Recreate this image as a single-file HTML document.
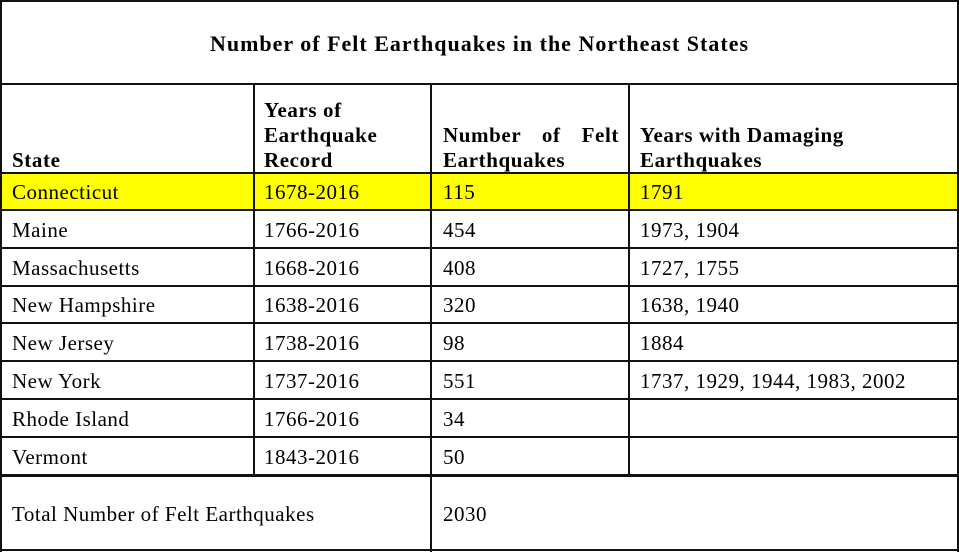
<!DOCTYPE html>
<html><head><meta charset="utf-8"><style>
html,body{margin:0;padding:0;background:#fff;}
#wrap{position:relative;width:959px;height:552px;overflow:hidden;font-family:"Liberation Serif",serif;color:#000;}
.h{position:absolute;height:2px;background:#111;}
.v{position:absolute;width:2px;background:#111;}
.t{position:absolute;font-size:21px;line-height:22px;white-space:nowrap;letter-spacing:0.5px;}
.b{font-weight:bold;letter-spacing:0.6px;}
</style></head><body>
<div id="wrap">
<div style="position:absolute;left:0;top:173px;width:959px;height:37px;background:#ffff00"></div>
<div class="h" style="left:0;top:0;width:959px"></div>
<div class="h" style="left:0;top:83px;width:959px"></div>
<div class="h" style="left:0;top:172px;width:959px"></div>
<div class="h" style="left:0;top:209px;width:959px"></div>
<div class="h" style="left:0;top:247px;width:959px"></div>
<div class="h" style="left:0;top:285px;width:959px"></div>
<div class="h" style="left:0;top:322px;width:959px"></div>
<div class="h" style="left:0;top:360px;width:959px"></div>
<div class="h" style="left:0;top:398px;width:959px"></div>
<div class="h" style="left:0;top:436px;width:959px"></div>
<div class="h" style="left:0;top:474px;width:959px;height:3px"></div>
<div class="h" style="left:0;top:549px;width:959px"></div>
<div class="v" style="left:0;top:0;height:552px"></div>
<div class="v" style="left:957px;top:0;height:552px"></div>
<div class="v" style="left:253px;top:83px;height:393px"></div>
<div class="v" style="left:430px;top:83px;height:469px"></div>
<div class="v" style="left:628px;top:83px;height:393px"></div>

<div class="t b" style="left:0;width:959px;text-align:center;top:33px;font-size:22px;letter-spacing:1px">Number of Felt Earthquakes in the Northeast States</div>
<div class="t b" style="left:12px;top:149px">State</div>
<div class="t b" style="left:264px;top:98px;line-height:25px">Years of<br>Earthquake<br>Record</div>
<div class="t b" style="left:443px;top:123px;line-height:25px;width:176px;white-space:normal;text-align:justify;text-align-last:left">Number of Felt Earthquakes</div>
<div class="t b" style="left:640px;top:123px;line-height:25px">Years with Damaging<br>Earthquakes</div>

<div class="t" style="left:12px;top:503px">Total Number of Felt Earthquakes</div>
<div class="t" style="left:443px;top:503px">2030</div>
</div>
<script>
const states=["Connecticut","Maine","Massachusetts","New Hampshire","New Jersey","New York","Rhode Island","Vermont"];
const records=["1678-2016","1766-2016","1668-2016","1638-2016","1738-2016","1737-2016","1766-2016","1843-2016"];
const felt=["115","454","408","320","98","551","34","50"];
const damaging=["1791","1973, 1904","1727, 1755","1638, 1940","1884","1737, 1929, 1944, 1983, 2002","",""];
const tops=[181,219,257,294,332,370,408,446];
const w=document.getElementById('wrap');
function cell(txt,x,y,name){
  const d=document.createElement('div');
  d.className='t';
  d.style.left=x+'px';d.style.top=y+'px';
  d.textContent=txt;
  
  
  w.appendChild(d);
}
states.forEach((s,i)=>{
  const y=tops[i];
  cell(s,12,y,'state-cell');
  cell(records[i],264,y,'record-cell');
  cell(felt[i],443,y,'felt-count-cell');
  if(damaging[i]) cell(damaging[i],640,y,'damaging-years-cell');
});
</script>
</body></html>
